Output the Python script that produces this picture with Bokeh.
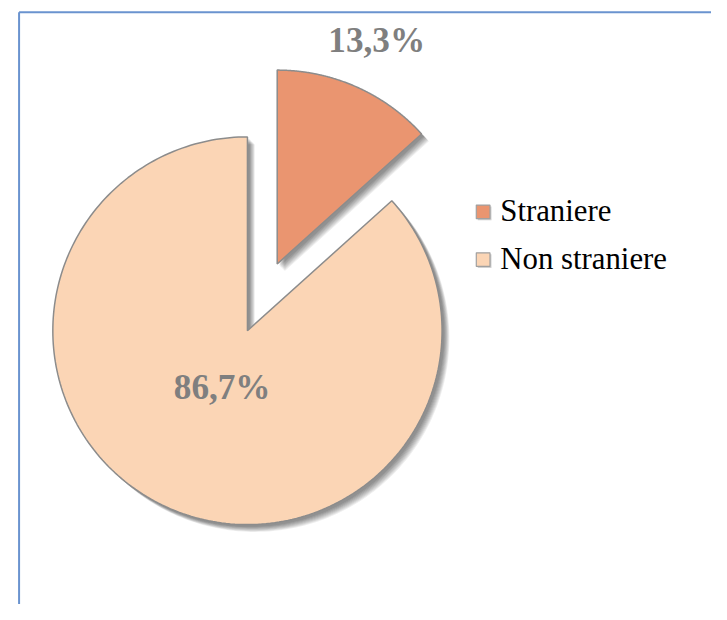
import numpy as np
from bokeh.plotting import figure
from bokeh.models import Range1d
from bokeh.core.properties import value
from bokeh.embed import file_html
from bokeh.resources import INLINE

categories = ["Straniere", "Non straniere"]
shares = [13.3, 86.7]
labels = ["13,3%", "86,7%"]
colors = ["#EA9570", "#FBD5B5"]
explode = [75, 0]

REF_W, REF_H = 727, 620
W, H = 711, 604
S = W / REF_W  # font scale

def px(v):
    return f"{v * S:.1f}px"

p = figure(width=W, height=H, output_backend="svg", toolbar_location=None,
           x_range=Range1d(0, REF_W), y_range=Range1d(REF_H, 0),
           min_border=0, outline_line_color=None)
p.axis.visible = False
p.grid.visible = False
p.background_fill_color = "#FFFFFF"
p.border_fill_color = "#FFFFFF"

# chart frame (left and top edges visible)
p.multi_line(xs=[[19, 19], [19, REF_W + 2]], ys=[[REF_H + 2, 12], [12, 12]],
             line_color="#6A93CF", line_width=2, line_cap="butt")

cx, cy, r = 252.5, 339.0, 199.0
fracs = np.array(shares) / sum(shares)
ends = np.cumsum(fracs) * 2 * np.pi
starts = ends - fracs * 2 * np.pi

polys = []
for s, e, ex in zip(starts, ends, explode):
    mid = (s + e) / 2
    ox = cx + ex * np.sin(mid)
    oy = cy - ex * np.cos(mid)
    t = np.linspace(s, e, 240)
    xs = np.concatenate([[ox], ox + r * np.sin(t), [ox]])
    ys = np.concatenate([[oy], oy - r * np.cos(t), [oy]])
    polys.append((xs, ys, ox, oy, mid))

# soft shadow
for k in range(1, 9):
    for xs, ys, *_ in polys:
        p.patch(xs + 1.5 + k * 0.75, ys + 1.5 + k * 0.75, fill_color="black",
                fill_alpha=0.065, line_color=None)

for (xs, ys, *_), c in zip(polys, colors):
    p.patch(xs, ys, fill_color=c, line_color="#8C8C8C", line_width=1.5)

# data labels
lab_pos = []
for (xs, ys, ox, oy, mid), ex in zip(polys, explode):
    rr = r * (1.26 if ex > 0 else 0.32)
    lab_pos.append((ox + rr * np.sin(mid), oy - rr * np.cos(mid)))
p.text(x=[q[0] for q in lab_pos], y=[q[1] for q in lab_pos], text=labels,
       text_font=value("Liberation Serif"), text_font_style="bold",
       text_font_size=px(36), text_color="#7F7F7F",
       text_align="center", text_baseline="middle")

# legend
leg_x, leg_y0, leg_dy = 493.5, 217.0, 49
ly = [leg_y0 + i * leg_dy for i in range(len(categories))]
p.rect(x=[leg_x + 1.5] * 2, y=[v + 1.5 for v in ly], width=14, height=14,
       fill_color="#AAAAAA", fill_alpha=0.6, line_color=None)
p.rect(x=[leg_x] * 2, y=ly, width=14, height=14, fill_color=colors,
       line_color="#A0A0A0", line_width=1.2)
p.text(x=[511] * 2, y=[v - 0.5 for v in ly], text=categories,
       text_font=value("Liberation Serif"), text_font_size=px(31.5),
       text_color="#000000", text_align="left", text_baseline="middle")

open("out.html", "w").write(file_html(p, INLINE))
